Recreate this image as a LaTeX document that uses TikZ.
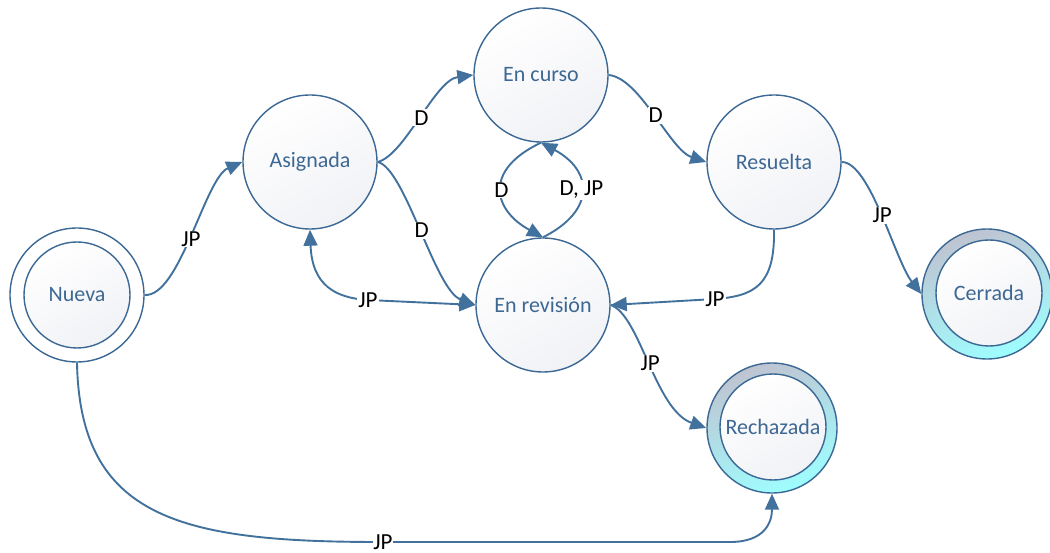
\documentclass[tikz,border=0pt]{standalone}
\usepackage{fontspec}
\setmainfont{Carlito}
\usetikzlibrary{arrows.meta,shapes.geometric}
\definecolor{ec}{HTML}{41719C}
\definecolor{bc}{HTML}{3B6894}
\definecolor{tc}{HTML}{3D6893}
\definecolor{fillb}{HTML}{F1F2F6}
\definecolor{ringtop}{HTML}{BFC3D1}
\definecolor{ringmid}{HTML}{AEE6EC}
\definecolor{ringbot}{HTML}{9EFEFF}
\tikzset{
  basec/.style={circle, draw=bc, line width=1.4pt, inner sep=0pt},
  st/.style={basec, minimum size=134pt, top color=white, bottom color=fillb, shading angle=30,
    text=tc, font=\fontsize{22}{24}\selectfont},
  outerc/.style={basec, minimum size=134pt, fill=white},
  ringc/.style={basec, minimum size=130pt, top color=ringtop, middle color=ringmid, bottom color=ringbot, shading angle=20},
  innerc/.style={basec, minimum size=106pt, top color=white, bottom color=fillb, shading angle=30,
    text=tc, font=\fontsize{22}{24}\selectfont},
  tip/.tip={Triangle[length=16pt,width=14pt]},
  edge/.style={draw=ec, line width=1.9pt, -tip},
  lbl/.style={fill=white, inner sep=1pt, text=black, font=\fontsize{23}{24}\selectfont}
}
\begin{document}
\begin{tikzpicture}[x=1pt,y=-1pt]
\useasboundingbox (0,0) rectangle (1050,553);
% nodes
\node[outerc] (nueva) at (77,295) {};
\node[innerc] (nuevain) at (77,295) {Nueva};
\node[st] (asig) at (310,162) {Asignada};
\node[st] (encurso) at (541,75) {En curso};
\node[st] (resuelta) at (774,162) {Resuelta};
\node[st] (enrev) at (543,305) {En revisión};
\node[ringc] (cerrada) at (987,294) {};
\node[innerc] (cerradain) at (989,293) {Cerrada};
\node[ringc] (rech) at (772,428) {};
\node[innerc] (rechin) at (773,427) {Rechazada};
% edges
\draw[edge] (nueva.east) .. controls (180,297) and (205,178) .. node[lbl,pos=0.48] {JP} (asig.west);
\draw[edge] (asig.east) .. controls (405,155) and (435,80) .. node[lbl] {D} (encurso.west);
\draw[edge] (asig.east) .. controls (405,168) and (435,290) .. node[lbl] {D} (enrev.west);
\draw[edge] (encurso.east) .. controls (640,78) and (670,150) .. node[lbl] {D} (resuelta.west);
\draw[edge] (encurso.south) .. controls (483,170) and (493,210) .. node[lbl] {D} (enrev.north);
\draw[edge] (enrev.north) .. controls (597,210) and (592,170) .. node[lbl] {D, JP} (encurso.south);
\draw[edge] (resuelta.south) .. controls (775,285) and (755,296) .. (715,299) -- node[lbl,pos=0.0] {JP} (enrev.east);
\draw[edge] (resuelta.east) .. controls (870,162) and (895,260) .. node[lbl] {JP} (cerrada.west);
\draw[edge, tip-tip] (asig.south) .. controls (312,285) and (335,298) .. (368,300) -- (enrev.west);
\node[lbl] (jpa) at (368,300) {JP};
\draw[edge] (enrev.east) .. controls (640,315) and (655,410) .. node[lbl] {JP} (rech.west);
\draw[edge] (nueva.south) .. controls (80,518) and (180,542) .. (380,542) -- (730,542) .. controls (765,542) and (772,522) .. (rech.south);
\node[lbl, inner sep=0pt] (jpb) at (383,542) {JP};
\end{tikzpicture}
\end{document}
